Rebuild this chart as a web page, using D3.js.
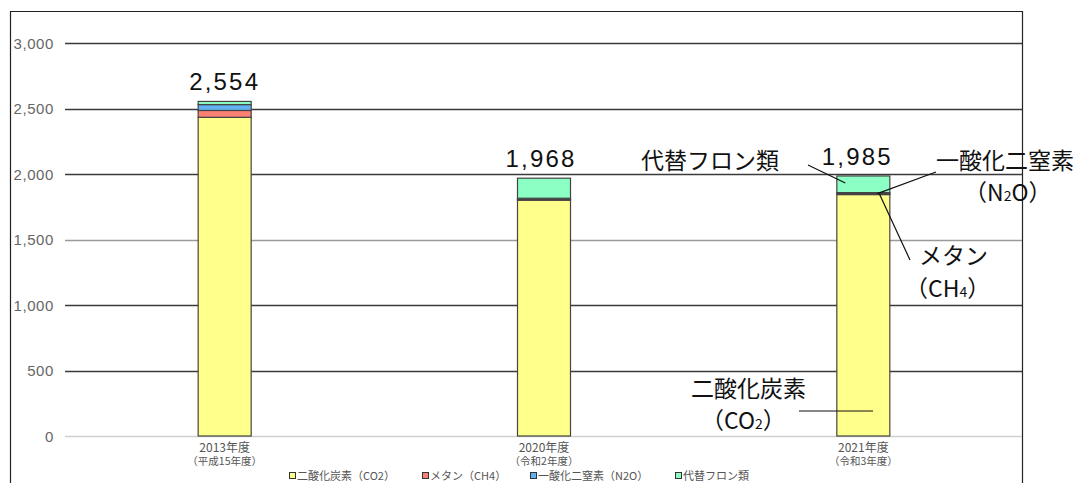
<!DOCTYPE html>
<html><head><meta charset="utf-8">
<script src="https://cdn.jsdelivr.net/npm/d3@7"></script>
<style>body{margin:0;background:#fff}svg{display:block}</style>
</head><body>
<svg id="c" width="1082" height="483"></svg>
<script>
const categories = ["2013年度", "2020年度", "2021年度"];
const subLabels = ["（平成15年度）", "（令和2年度）", "（令和3年度）"];
const seriesNames = ["二酸化炭素（CO2）", "メタン（CH4）", "一酸化二窒素（N2O）", "代替フロン類"];
const co2 = [2433, 1800, 1843];
const ch4 = [52, 6, 6];
const n2o = [45, 9, 9];
const hfc = [24, 153, 127];
const totals = [2554, 1968, 1985];
const yTicks = [0, 500, 1000, 1500, 2000, 2500, 3000];
const colors = ["#ffff8c", "#f98274", "#62b2f2", "#8cffc4"];

const svg = d3.select("#c");
const numFont = "'Liberation Sans', Arial, sans-serif";
const jpFont = "'Noto Sans CJK JP', sans-serif";

const x = d3.scaleBand().domain(categories).range([65, 1023]).paddingInner(0).paddingOuter(0);
const y = d3.scaleLinear().domain([0, 3000]).range([436, 43]);
const barW = 53;

// frame
svg.append("path").attr("d", "M10.5,483 V11.5 H1022.5 V483").attr("fill", "none").attr("stroke", "#222").attr("stroke-width", 1.2);

// gridlines
svg.append("g").selectAll("line").data(yTicks).join("line")
  .attr("x1", 65).attr("x2", 1022).attr("y1", d => Math.round(y(d)) + 0.5).attr("y2", d => Math.round(y(d)) + 0.5)
  .attr("stroke", d => d === 0 ? "#d0d0d0" : (d === 1500 ? "#9a9a9a" : "#3a3a3a"))
  .attr("stroke-width", 1.5);

// y axis labels
const yAxis = d3.axisLeft(y).tickValues(yTicks).tickFormat(d3.format(",")).tickSize(0).tickPadding(0);
const ya = svg.append("g").attr("transform", "translate(54,0)").call(yAxis);
ya.select(".domain").remove();
ya.selectAll("text").attr("font-family", numFont).attr("font-size", 15).attr("fill", "#666")
  .attr("letter-spacing", "0.6px").attr("dy", "0.36em");

// stacked bars
const table = categories.map((c, i) => ({cat: c, s0: co2[i], s1: ch4[i], s2: n2o[i], s3: hfc[i]}));
const stack = d3.stack().keys(["s0", "s1", "s2", "s3"])(table);
svg.append("g").selectAll("g").data(stack).join("g")
  .attr("fill", (d, i) => colors[i])
  .selectAll("rect").data(d => d).join("rect")
  .attr("x", d => x(d.data.cat) + x.bandwidth() / 2 - barW / 2)
  .attr("width", barW)
  .attr("y", d => y(d[1]))
  .attr("height", d => y(d[0]) - y(d[1]))
  .attr("stroke", "#444").attr("stroke-width", 1.2);

// totals
svg.append("g").selectAll("text").data(categories).join("text")
  .attr("x", (d, i) => x(d) + x.bandwidth() / 2 - (i === 0 ? 0 : (i === 1 ? 3 : 6)))
  .attr("y", (d, i) => y(totals[i]) - 11)
  .attr("text-anchor", "middle").attr("font-family", numFont).attr("font-size", 24)
  .attr("letter-spacing", "2.2px").attr("fill", "#111")
  .text((d, i) => d3.format(",")(totals[i]));

// x labels
const xl = svg.append("g");
xl.selectAll("text.a").data(categories).join("text").attr("class", "a")
  .attr("x", d => x(d) + x.bandwidth() / 2).attr("y", 452)
  .attr("text-anchor", "middle").attr("font-family", jpFont).attr("font-size", 12).attr("fill", "#555").text(d => d);
xl.selectAll("text.b").data(subLabels).join("text").attr("class", "b")
  .attr("x", (d, i) => x(categories[i]) + x.bandwidth() / 2).attr("y", 465)
  .attr("text-anchor", "middle").attr("font-family", jpFont).attr("font-size", 10.5).attr("fill", "#555").text(d => d);

// legend
const legX = [289, 422, 530, 675];
const lg = svg.append("g");
seriesNames.forEach((n, i) => {
  lg.append("rect").attr("x", legX[i] + 0.5).attr("y", 472.5).attr("width", 6).attr("height", 6)
    .attr("fill", colors[i]).attr("stroke", "#333").attr("stroke-width", 1);
  lg.append("text").attr("x", legX[i] + 8).attr("y", 480).attr("font-family", jpFont).attr("font-size", 11)
    .attr("fill", "#555").text(n);
});

// annotations
const ann = svg.append("g").attr("font-family", jpFont).attr("fill", "#111");
const b3 = x(categories[2]) + x.bandwidth() / 2;
function line(x1, y1, x2, y2) {
  ann.append("line").attr("x1", x1).attr("y1", y1).attr("x2", x2).attr("y2", y2).attr("stroke", "#111").attr("stroke-width", 1.2);
}
ann.append("text").attr("x", 641).attr("y", 169).attr("font-size", 23).text("代替フロン類");
line(808, 165, b3 - 18, y(totals[2]) + 7);
ann.append("text").attr("x", 936).attr("y", 169).attr("font-size", 23).text("一酸化二窒素");
const t1 = ann.append("text").attr("x", 964).attr("y", 201).attr("font-size", 23);
t1.append("tspan").text("（N");
t1.append("tspan").attr("font-size", 14).text("2");
t1.append("tspan").text("O）");
line(936, 172, b3 + 14, y(co2[2] + ch4[2] + n2o[2]) + 1);
ann.append("text").attr("x", 919).attr("y", 264).attr("font-size", 23).text("メタン");
const t2 = ann.append("text").attr("x", 905).attr("y", 297).attr("font-size", 23);
t2.append("tspan").text("（CH");
t2.append("tspan").attr("font-size", 14).text("4");
t2.append("tspan").text("）");
line(b3 + 16, y(co2[2] + ch4[2]), 910, 260);
ann.append("text").attr("x", 691).attr("y", 397).attr("font-size", 23).text("二酸化炭素");
const t3 = ann.append("text").attr("x", 701).attr("y", 429).attr("font-size", 23);
t3.append("tspan").text("（CO");
t3.append("tspan").attr("font-size", 14).text("2");
t3.append("tspan").text("）");
line(799, 411, 873, 411);
</script>
</body></html>
